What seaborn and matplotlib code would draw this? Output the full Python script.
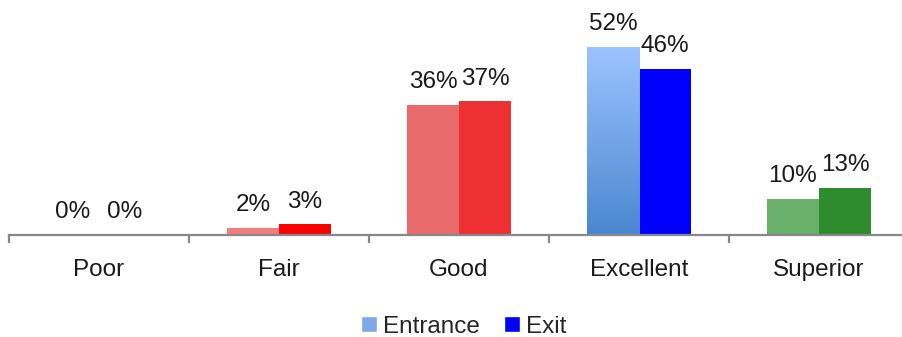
import numpy as np
import pandas as pd
import matplotlib
matplotlib.use('Agg')
import matplotlib.pyplot as plt
import seaborn as sns
from matplotlib.patches import Patch

categories = ['Poor', 'Fair', 'Good', 'Excellent', 'Superior']
entrance = [0, 2, 36, 52, 10]
exit_ = [0, 3, 37, 46, 13]
series = ['Entrance', 'Exit']

entrance_colors = ['#f47c7c', '#f47c7c', '#e86a6a', '#7fa8e8', '#6aaf6a']
exit_colors = ['#ff0000', '#ff0000', '#ee3033', '#0000ff', '#2e8b2e']

df = pd.DataFrame({
    'category': categories * 2,
    'value': entrance + exit_,
    'series': ['Entrance'] * len(categories) + ['Exit'] * len(categories),
})

sns.set_theme(style='white')
plt.rcParams['font.family'] = ['Liberation Sans', 'DejaVu Sans']
FS = 17.5

fig = plt.figure(figsize=(9.02, 3.37), dpi=100)
ax = fig.add_axes([9 / 902, (337 - 235) / 337, 900 / 902, 235 / 337])

sns.barplot(data=df, x='category', y='value', hue='series', order=categories,
            hue_order=series, width=0.58, gap=0, ax=ax, legend=False,
            palette=['#7fa8e8', '#0000ff'], saturation=1)

# recolour bars per category, add labels
for container, cols, vals in zip(ax.containers, [entrance_colors, exit_colors], [entrance, exit_]):
    for bar, c, v in zip(container, cols, vals):
        bar.set_facecolor(c)
        bar.set_edgecolor('none')
        ax.text(bar.get_x() + bar.get_width() / 2, v + 3.2, f'{v}%',
                ha='center', va='bottom', fontsize=FS, color='#1a1a1a')

# gradient on the Excellent entrance bar
exc = ax.containers[0][3]
grad = np.linspace(0, 1, 256).reshape(-1, 1)
cmap = matplotlib.colors.LinearSegmentedColormap.from_list('g', ['#4a86d0', '#9dc3ff'])
im = ax.imshow(grad, cmap=cmap, origin='lower', aspect='auto',
               extent=[exc.get_x(), exc.get_x() + exc.get_width(), 0, exc.get_height()],
               zorder=exc.get_zorder() + 0.1)
im.set_clip_path(exc)
ax.set_xlim(-0.5, len(categories) - 0.5)
ax.set_ylim(0, 65)

for s in ['top', 'right', 'left']:
    ax.spines[s].set_visible(False)
ax.spines['bottom'].set_color('#888888')
ax.spines['bottom'].set_linewidth(1.6)
ax.set_yticks([])
ax.set_xlabel('')
ax.set_ylabel('')
ax.set_xticks(range(len(categories)))
ax.set_xticklabels(categories, fontsize=FS, color='#1a1a1a')
ax.tick_params(axis='x', which='major', bottom=True, length=0, pad=17)
ax.set_xticks(np.arange(-0.5, len(categories)), minor=True)
ax.tick_params(axis='x', which='minor', bottom=True, length=6, width=1.6,
               color='#888888', direction='out')

handles = [Patch(facecolor='#7fa8e8', label='Entrance'), Patch(facecolor='#0000ff', label='Exit')]
fig.legend(handles=handles, loc='center', bbox_to_anchor=(0.514, 0.03), ncol=2, frameon=False,
           fontsize=FS, handlelength=0.65, handleheight=0.65, handletextpad=0.25, columnspacing=1.0)

fig.savefig('out.png', dpi=100)
